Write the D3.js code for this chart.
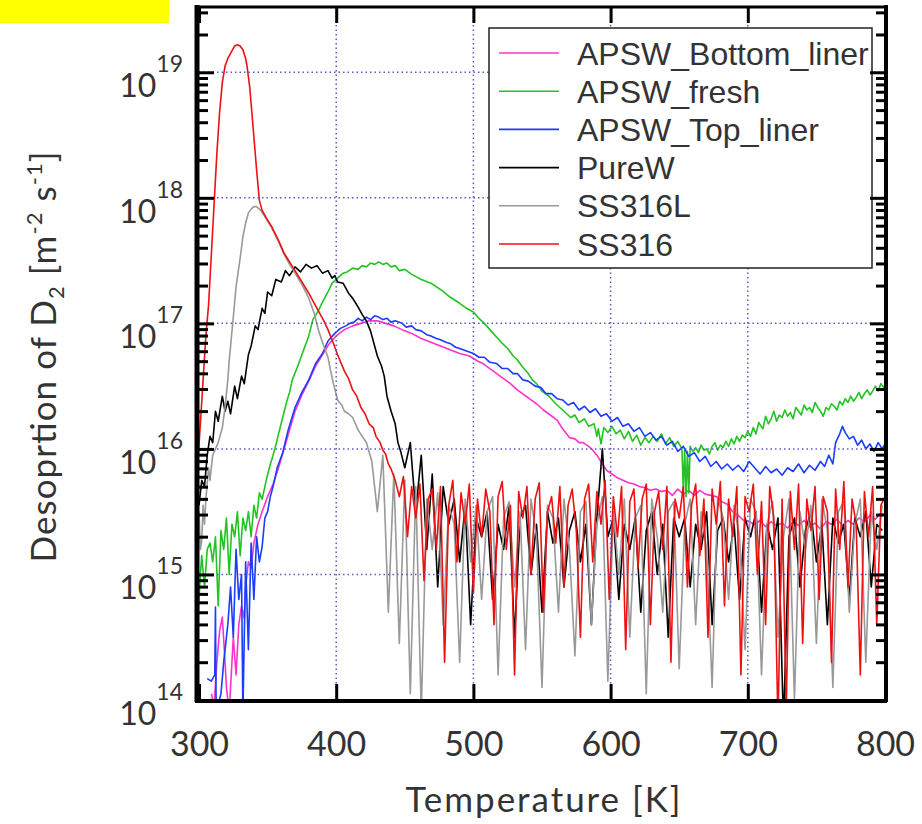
<!DOCTYPE html>
<html>
<head>
<meta charset="utf-8">
<script src="https://cdn.jsdelivr.net/npm/d3@7"></script>
<style>
body { margin: 0; background: #fff; }
svg { display: block; }
</style>
</head>
<body>
<svg id="chart" width="922" height="824"></svg>
<script>
// Tick values and legend entries
var xTicks = [300, 400, 500, 600, 700, 800];
var yDecades = [14, 15, 16, 17, 18, 19];
var seriesNames = ['APSW_Bottom_liner', 'APSW_fresh', 'APSW_Top_liner', 'PureW', 'SS316L', 'SS316'];
var seriesColors = ['#ff33cc', '#22c322', '#1a3cff', '#000000', '#999999', '#ee1111'];

// All values are [temperature K, log10 of D2 flux]
var bottomLiner = [[309,14.05],[311,13.95],[313,14.3],[315,14.55],[317,14.66],[319,14.3],[320,14.1],[322,13.9],[324,14.3],[325,14.5],[327,14.2],[329,14.6],[331,14.75],[333,14.65],[334,14.9],[336,15.1],[338,15.05],[340,15.25],[343,15.4],[346,15.5],[350,15.62],[354,15.72],[358,15.85],[362,16.0],[366,16.15],[370,16.3],[375,16.43],[380,16.54],[385,16.66],[390,16.75],[395,16.84],[400,16.9],[406,16.95],[412,16.98],[418,17.0],[424,17.02],[430,17.02],[436,17.0],[442,16.98],[448,16.95],[455,16.92],[462,16.88],[469,16.85],[476,16.82],[483,16.79],[490,16.76],[497,16.74],[503,16.7],[507,16.68],[512,16.64],[517,16.6],[522,16.56],[527,16.52],[532,16.47],[537,16.43],[542,16.39],[546,16.36],[551,16.31],[556,16.27],[561,16.23],[565,16.16],[570,16.09],[574,16.08],[577,16.05],[580,16.05],[584,16.02],[587,15.99],[590,15.95],[594,15.88],[597,15.83],[601,15.8],[605,15.77],[609,15.75],[613,15.73],[617,15.72],[621,15.7],[625,15.69],[629,15.67],[633,15.68],[637,15.66],[641,15.67],[645,15.63],[649,15.68],[653,15.64],[657,15.67],[661,15.63],[665,15.67],[669,15.64],[673,15.63],[677,15.62],[681,15.58],[685,15.56],[689,15.5],[693,15.47],[697,15.43],[701,15.42],[705,15.4],[709,15.43],[713,15.38],[717,15.42],[721,15.39],[725,15.41],[729,15.37],[733,15.42],[737,15.39],[741,15.43],[745,15.38],[749,15.41],[753,15.36],[757,15.42],[761,15.4],[765,15.44],[769,15.39],[773,15.43],[777,15.4],[781,15.45],[785,15.42],[789,15.47],[793,15.44],[797,15.49],[800,15.47]];

var fresh = [[299,14.6],[301,15.0],[302,15.15],[304,14.9],[306,15.2],[308,15.25],[310,15.1],[312,15.3],[314,14.75],[316,15.35],[318,15.2],[320,15.45],[322,15.0],[324,15.4],[326,15.3],[328,15.5],[330,15.15],[332,15.45],[334,15.35],[336,15.5],[338,15.3],[340,15.55],[342,15.45],[344,15.65],[346,15.6],[349,15.75],[352,15.88],[354,15.95],[356,16.03],[358,16.12],[361,16.25],[364,16.38],[366,16.45],[368,16.55],[372,16.66],[376,16.78],[380,16.9],[383,17.03],[387,17.1],[390,17.17],[394,17.25],[397,17.32],[401,17.36],[405,17.4],[408,17.41],[412,17.44],[416,17.43],[419,17.46],[422,17.45],[425,17.48],[428,17.47],[431,17.49],[434,17.47],[437,17.48],[440,17.45],[443,17.46],[446,17.42],[450,17.43],[455,17.39],[462,17.35],[469,17.32],[476,17.27],[483,17.21],[490,17.16],[495,17.12],[500,17.09],[504,17.04],[508,17.0],[512,16.95],[517,16.89],[521,16.84],[525,16.8],[529,16.74],[532,16.71],[536,16.65],[540,16.6],[543,16.55],[546,16.52],[550,16.46],[555,16.42],[560,16.36],[565,16.31],[568,16.28],[571,16.25],[574,16.27],[577,16.21],[581,16.24],[584,16.18],[588,16.2],[590,16.1],[591,16.16],[593,16.04],[595,16.17],[598,16.13],[601,16.18],[604,16.12],[607,16.15],[610,16.08],[613,16.14],[616,16.06],[619,16.11],[622,16.03],[625,16.09],[628,16.05],[631,16.1],[634,16.06],[637,16.12],[640,16.04],[643,16.09],[646,16.02],[649,16.06],[652,16.0],[653,15.66],[654,16.0],[655,15.62],[656,15.98],[657,15.65],[658,16.02],[660,15.98],[662,16.01],[664,15.97],[666,16.03],[668,15.99],[670,16.0],[672,15.96],[674,16.02],[676,16.05],[678,15.99],[680,16.03],[682,16.01],[684,16.06],[686,16.02],[688,16.08],[690,16.04],[692,16.1],[694,16.06],[696,16.11],[698,16.09],[700,16.14],[702,16.1],[704,16.17],[706,16.12],[708,16.21],[711,16.16],[713,16.26],[715,16.2],[717,16.24],[719,16.3],[721,16.22],[723,16.27],[725,16.25],[727,16.31],[729,16.26],[731,16.29],[733,16.24],[735,16.33],[737,16.3],[739,16.27],[741,16.35],[743,16.31],[745,16.33],[747,16.29],[749,16.37],[751,16.33],[753,16.3],[755,16.26],[757,16.33],[759,16.31],[761,16.36],[763,16.34],[765,16.31],[767,16.38],[769,16.35],[771,16.4],[773,16.37],[775,16.42],[777,16.38],[779,16.41],[781,16.45],[783,16.4],[785,16.44],[787,16.47],[789,16.43],[791,16.46],[793,16.5],[795,16.46],[797,16.52],[799,16.49],[800,16.51]];

var topLiner = [[306,14.17],[309,14.15],[311.5,14.2],[312,14.74],[312.5,13.9],[316,14.05],[318,14.3],[321,14.6],[323,14.9],[325,14.5],[327,15.2],[329,14.8],[331,15.0],[332,13.9],[334,15.1],[336,14.4],[338,15.25],[340,14.8],[342,15.3],[344,15.1],[346,15.22],[348,15.45],[350,15.5],[352,15.62],[354,15.7],[357,15.85],[361,15.97],[365,16.15],[370,16.33],[375,16.45],[380,16.55],[385,16.68],[390,16.76],[394,16.86],[399,16.92],[403,16.96],[407,16.98],[410,17.0],[413,17.01],[416,17.04],[419,17.02],[422,17.05],[425,17.03],[428,17.06],[431,17.05],[434,17.03],[437,17.04],[440,17.01],[443,17.02],[448,17.0],[451,16.97],[455,16.98],[458,16.95],[462,16.94],[466,16.91],[469,16.9],[473,16.88],[476,16.87],[480,16.85],[483,16.84],[487,16.81],[490,16.8],[495,16.78],[500,16.76],[504,16.73],[508,16.73],[512,16.69],[517,16.68],[521,16.64],[525,16.64],[529,16.6],[532,16.6],[536,16.55],[540,16.54],[545,16.5],[549,16.49],[553,16.44],[557,16.44],[561,16.4],[565,16.39],[569,16.35],[573,16.37],[577,16.31],[581,16.34],[585,16.29],[589,16.32],[593,16.26],[597,16.28],[601,16.22],[605,16.25],[609,16.18],[613,16.2],[617,16.14],[621,16.17],[625,16.1],[629,16.13],[633,16.07],[637,16.1],[641,16.03],[645,16.06],[649,15.98],[653,16.02],[657,15.94],[661,15.97],[665,15.9],[669,15.94],[673,15.86],[677,15.9],[681,15.84],[685,15.88],[689,15.83],[693,15.87],[697,15.82],[701,15.9],[705,15.85],[709,15.8],[713,15.86],[717,15.81],[721,15.84],[725,15.79],[729,15.85],[733,15.82],[737,15.88],[741,15.81],[745,15.87],[749,15.83],[753,15.9],[756,15.86],[759,15.95],[762,15.88],[764,16.05],[767,16.12],[769,16.18],[771,16.13],[774,16.08],[777,16.1],[780,16.03],[783,16.07],[786,16.0],[789,16.04],[792,15.98],[795,16.05],[798,16.0],[800,16.04]];

var pureW = [[300,15.55],[302,15.75],[304,15.7],[306,15.95],[308,16.1],[310,16.05],[312,16.3],[314,16.22],[317,16.42],[319,16.3],[321,16.38],[323,16.28],[326,16.5],[328,16.4],[331,16.58],[333,16.52],[336,16.75],[338,16.82],[341,16.98],[343,16.95],[346,17.12],[348,17.08],[350,17.25],[353,17.22],[356,17.35],[360,17.33],[363,17.42],[366,17.38],[370,17.45],[374,17.41],[378,17.47],[382,17.44],[386,17.46],[390,17.4],[394,17.42],[397,17.36],[399,17.38],[401,17.33],[405,17.32],[409,17.24],[412,17.2],[416,17.13],[419,17.07],[422,17.02],[425,16.94],[428,16.82],[430,16.74],[433,16.66],[435,16.58],[437,16.42],[440,16.3],[443,16.2],[445,16.05],[447,15.98],[450,15.85]];
// noisy tail, every 4 K from 454 K
var pureWNoise = [16.05,15.5,15.95,15.2,15.8,14.9,15.7,15.4,15.6,15.1,
  15.55,14.6,15.45,15.3,15.5,14.8,15.4,15.2,15.55,14.5,
  15.45,15.55,15.0,15.4,14.7,15.5,15.25,15.45,14.9,15.35,
  15.5,15.1,15.4,14.6,15.45,16.0,15.3,15.45,14.8,15.4,
  15.2,15.45,14.7,15.35,15.5,15.0,15.4,14.5,15.45,15.3,
  15.45,14.9,15.4,15.2,15.5,14.6,15.35,15.45,15.1,15.4,
  14.8,15.45,15.3,15.5,14.7,15.4,15.2,15.45,13.8,15.3,
  15.45,14.9,15.35,15.5,15.1,15.4,14.6,15.45,15.25,15.4,
  14.8,15.45,15.3,15.5,14.9,15.4,15.35];

var ss316L = [[299,15.1],[300,15.5],[301,15.2],[302,15.27],[303,15.55],[304,15.4],[305,15.6],[307,15.85],[308,15.75],[310,15.95],[312,16.0],[314,16.05],[317,16.17],[319,16.33],[321,16.55],[322,16.7],[325,17.05],[327,17.29],[330,17.52],[332,17.69],[334,17.8],[336,17.88],[338,17.91],[340,17.93],[342,17.93],[345,17.9],[348,17.85],[353,17.76],[358,17.65],[362,17.55],[366,17.47],[370,17.4],[375,17.31],[380,17.2],[384,17.08],[387,16.95],[390,16.85],[394,16.73],[396,16.62],[398,16.52],[401,16.39],[404,16.35],[406,16.3],[409,16.28],[412,16.25],[414,16.2],[416,16.15],[419,16.1]];
// noisy tail, every 4 K from 422 K
var ss316LNoise = [16.05,15.9,15.5,15.95,14.7,15.8,14.45,15.75,14.05,15.7,
  13.9,15.6,15.2,15.65,14.6,15.55,15.4,14.3,15.6,15.1,
  15.55,14.8,15.5,15.62,14.2,15.45,15.58,14.9,15.5,14.4,
  15.6,15.3,14.1,15.55,15.45,14.7,15.6,15.2,14.35,15.5,
  15.58,14.6,15.4,15.62,14.15,15.5,15.0,15.6,14.5,15.45,
  15.55,14.05,15.6,15.3,14.7,15.5,15.58,14.25,15.4,15.6,
  14.6,15.5,15.2,14.1,15.62,15.45,14.8,15.55,15.3,14.4,
  15.6,15.5,14.2,15.4,15.58,14.5,15.3,15.6,14.0,15.5,
  15.2,15.55,14.45,15.6,15.35,14.1,15.5,15.58,14.7,15.4,
  15.6,14.3,15.5,15.2,15.55];

var ss316 = [[299.5,15.95],[301,16.2],[303,16.55],[305,16.9],[307,17.15],[309,17.55],[311,17.95],[313,18.35],[315,18.68],[317,18.92],[319,19.05],[321,19.11],[324,19.17],[326,19.21],[328,19.22],[330,19.21],[332,19.18],[334,19.11],[335,19.05],[337,18.88],[339,18.62],[342,18.22],[344,17.98],[346,17.9],[349,17.84],[353,17.77],[358,17.66],[362,17.56],[366,17.49],[370,17.42],[375,17.33],[380,17.24],[384,17.16],[387,17.1],[391,17.02],[394,16.95],[398,16.84],[401,16.75],[406,16.62],[409,16.56],[412,16.47],[415,16.42],[418,16.33],[421,16.28],[424,16.2],[427,16.17],[429,16.1],[432,16.05],[434,15.99],[436,15.96],[438,15.88],[440,15.84],[443,15.75]];
// noisy tail, every 3 K from 446 K
var ss316Noise = [15.62,15.78,15.3,15.7,15.45,15.72,14.95,15.6,15.68,15.2,
  15.7,14.3,15.55,15.75,15.1,15.65,15.4,15.72,14.85,15.6,
  15.3,15.68,15.5,14.6,15.62,15.74,15.2,15.55,14.2,15.66,
  15.45,15.7,15.0,15.6,15.73,14.7,15.5,15.62,15.25,15.7,
  14.9,15.55,15.68,15.35,14.5,15.6,15.72,15.1,15.66,15.4,
  15.75,14.8,15.62,15.3,15.7,14.4,15.58,15.68,15.05,15.6,
  15.72,14.6,15.5,15.66,15.2,15.7,14.3,15.6,15.45,15.7,
  14.9,15.55,15.72,15.15,15.6,14.5,15.68,15.4,15.74,14.75,
  15.6,15.3,15.7,14.2,15.62,15.5,15.72,15.0,15.58,14.6,
  15.7,15.45,13.8,15.6,13.9,15.66,15.2,15.72,14.45,15.6,
  15.35,15.7,14.8,15.62,15.5,14.3,15.68,15.2,15.74,14.9,
  15.6,15.4,14.2,15.66,15.3,15.7,14.6,15.55,15.62];

// join the smooth part and the evenly sampled noisy tail
function withTail(pairs, start, step, vals) {
    return pairs.concat(vals.map(function(v, i) { return [start + i * step, v]; }));
}

var seriesData = [
    bottomLiner,
    fresh,
    topLiner,
    withTail(pureW, 454, 4, pureWNoise),
    withTail(ss316L, 422, 4, ss316LNoise),
    withTail(ss316, 446, 3, ss316Noise)
];

var svg = d3.select('#chart');
var x = d3.scaleLinear().domain([300, 800]).range([199, 885]);
var y = d3.scaleLog().domain([1e14, Math.pow(10, 19.52)]).range([700, 7]);
var textFont = 'Lato, "Noto Sans", sans-serif';

// yellow patch in the top left corner
svg.append('rect')
    .attr('x', 0).attr('y', 0).attr('width', 169).attr('height', 23)
    .attr('fill', '#ffff00');

svg.append('defs').append('clipPath').attr('id', 'plotClip')
    .append('rect')
    .attr('x', x(300)).attr('y', y.range()[1])
    .attr('width', x(800) - x(300)).attr('height', y.range()[0] - y.range()[1]);

// curves
var line = d3.line()
    .x(function(d) { return x(d[0]); })
    .y(function(d) { return y(Math.pow(10, d[1])); });

var curves = svg.append('g').attr('clip-path', 'url(#plotClip)');
seriesData.forEach(function(data, i) {
    curves.append('path')
        .datum(data)
        .attr('fill', 'none')
        .attr('stroke', seriesColors[i])
        .attr('stroke-width', 1.6)
        .attr('stroke-linejoin', 'round')
        .attr('d', line);
});

// dotted grid
var grid = svg.append('g')
    .attr('stroke', '#5a5ac8')
    .attr('stroke-width', 1.5)
    .attr('stroke-dasharray', '1.5,3');
grid.selectAll('.vgrid')
    .data(xTicks.slice(1, -1)).enter()
    .append('line')
    .attr('x1', function(d) { return x(d); }).attr('x2', function(d) { return x(d); })
    .attr('y1', y.range()[1]).attr('y2', y.range()[0]);
grid.selectAll('.hgrid')
    .data(yDecades.slice(1)).enter()
    .append('line')
    .attr('x1', x(300)).attr('x2', x(800))
    .attr('y1', function(d) { return y(Math.pow(10, d)); })
    .attr('y2', function(d) { return y(Math.pow(10, d)); });

// legend
var legend = svg.append('g');
legend.append('rect')
    .attr('x', 489).attr('y', 28).attr('width', 383).attr('height', 240)
    .attr('fill', '#fff').attr('stroke', '#222').attr('stroke-width', 1.5);
var rows = legend.selectAll('.row')
    .data(seriesNames).enter()
    .append('g')
    .attr('transform', function(d, i) { return 'translate(0,' + (53 + i * 38.2) + ')'; });
rows.append('line')
    .attr('x1', 499).attr('x2', 559)
    .attr('stroke', function(d, i) { return seriesColors[i]; })
    .attr('stroke-width', 1.6);
rows.append('text')
    .attr('x', 577).attr('dy', '0.36em')
    .attr('font-family', '"Liberation Sans", Arial, sans-serif')
    .attr('font-size', 32)
    .attr('fill', '#333')
    .text(function(d) { return d; });

// ticks, all pointing into the plot
var yTickVals = y.ticks();
function isMajor(d) {
    var l = Math.log10(d);
    return Math.abs(l - Math.round(l)) < 1e-6;
}

var leftAxis = svg.append('g').attr('transform', 'translate(' + x(300) + ',0)')
    .call(d3.axisLeft(y).tickValues(yTickVals).tickSize(-9).tickFormat(''));
leftAxis.selectAll('.tick line').filter(isMajor).attr('x2', 15);

var rightAxis = svg.append('g').attr('transform', 'translate(' + x(800) + ',0)')
    .call(d3.axisRight(y).tickValues(yTickVals).tickSize(-9).tickFormat(''));
rightAxis.selectAll('.tick line').filter(isMajor).attr('x2', -15);

var bottomAxis = svg.append('g').attr('transform', 'translate(0,' + y.range()[0] + ')')
    .call(d3.axisBottom(x).tickValues(xTicks).tickSize(-16));
var topAxis = svg.append('g').attr('transform', 'translate(0,' + y.range()[1] + ')')
    .call(d3.axisTop(x).tickValues(xTicks).tickSize(-16).tickFormat(''));

[leftAxis, rightAxis, bottomAxis, topAxis].forEach(function(ax) {
    ax.select('.domain').remove();
    ax.selectAll('.tick line').attr('stroke', '#000').attr('stroke-width', 3);
});

bottomAxis.selectAll('.tick text')
    .attr('y', 56).attr('dy', 0)
    .attr('font-family', textFont)
    .attr('font-size', 34)
    .attr('fill', '#333');

// frame
var frame = svg.append('g').attr('stroke', '#000').attr('fill', 'none');
frame.append('line').attr('x1', x(300) - 2).attr('x2', x(300) - 2)
    .attr('y1', y.range()[1] - 2).attr('y2', y.range()[0] + 2).attr('stroke-width', 5);
frame.append('line').attr('x1', x(300) - 4).attr('x2', x(800) + 2)
    .attr('y1', y.range()[0] + 1).attr('y2', y.range()[0] + 1).attr('stroke-width', 4);
frame.append('line').attr('x1', x(800) + 1).attr('x2', x(800) + 1)
    .attr('y1', y.range()[1] - 2).attr('y2', y.range()[0] + 2).attr('stroke-width', 4);
frame.append('line').attr('x1', x(300) - 4).attr('x2', x(800) + 2)
    .attr('y1', y.range()[1]).attr('y2', y.range()[1]).attr('stroke-width', 3);

// y tick labels as powers of ten
var yLabels = svg.append('g')
    .attr('font-family', textFont)
    .attr('fill', '#333');
yDecades.forEach(function(d) {
    var t = yLabels.append('text')
        .attr('x', 183)
        .attr('y', y(Math.pow(10, d)) + 25)
        .attr('text-anchor', 'end')
        .attr('font-size', 32)
        .text('10');
    t.append('tspan')
        .attr('dy', -25)
        .attr('font-size', 23)
        .text(d);
});

// axis titles
svg.append('text')
    .attr('x', 543).attr('y', 812)
    .attr('text-anchor', 'middle')
    .attr('font-family', textFont)
    .attr('font-size', 35)
    .attr('textLength', 275)
    .attr('lengthAdjust', 'spacing')
    .attr('fill', '#333')
    .text('Temperature [K]');

var yTitle = svg.append('text')
    .attr('transform', 'translate(56,357) rotate(-90)')
    .attr('text-anchor', 'middle')
    .attr('font-family', textFont)
    .attr('font-size', 35)
    .attr('textLength', 411)
    .attr('lengthAdjust', 'spacing')
    .attr('fill', '#333');
yTitle.append('tspan').text('Desoprtion of D');
yTitle.append('tspan').attr('font-size', 22).attr('dy', 8).text('2');
yTitle.append('tspan').attr('dy', -8).text(' [m');
yTitle.append('tspan').attr('font-size', 22).attr('dy', -14).text('-2');
yTitle.append('tspan').attr('dy', 14).text(' s');
yTitle.append('tspan').attr('font-size', 22).attr('dy', -14).text('-1');
yTitle.append('tspan').attr('dy', 14).text(']');
</script>
</body>
</html>
